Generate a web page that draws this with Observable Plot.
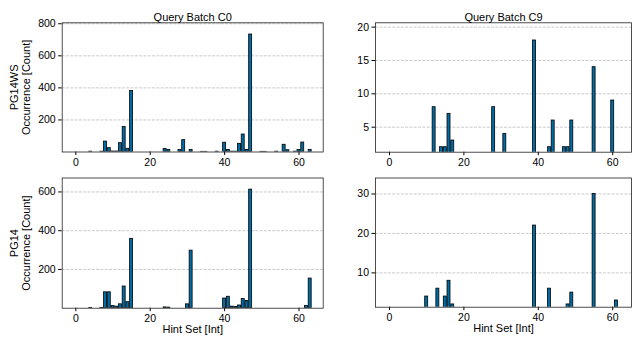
<!DOCTYPE html>
<html><head><meta charset="utf-8">
<script src="https://cdn.jsdelivr.net/npm/d3@7"></script>
<script src="https://cdn.jsdelivr.net/npm/@observablehq/plot@0.6"></script>
<style>
html,body{margin:0;padding:0;background:#fff;}
#chart{position:relative;width:634px;height:345px;overflow:hidden;background:#fff;}
#chart > svg{position:absolute;}
</style></head><body><div id="chart"></div>
<script>
// ---- data ----
const xTicks = [0, 20, 40, 60];

const wsC0Hints  = [4,7,8,9,10,11,12,13,14,15,24,25,28,29,31,34,35,38,40,41,42,43,44,45,46,47,50,51,54,56,57,59,60,61,63];
const wsC0Counts = [2,2,65,24,3,3,55,156,20,381,19,12,12,74,13,1,1,2,58,13,2,2,51,109,13,733,1,1,2,45,11,2,13,59,13];
const wsC0YTicks = [200, 400, 600, 800];

const wsC9Hints  = [12,14,15,16,17,28,31,39,43,44,47,48,49,55,60];
const wsC9Counts = [8,2,2,7,3,8,4,18,2,6,2,2,6,14,9];
const wsC9YTicks = [5, 10, 15, 20];

const pgC0Hints  = [4,7,8,9,10,11,12,13,14,15,24,25,30,31,40,41,42,43,44,45,46,47,62,63];
const pgC0Counts = [1,1,82,82,11,8,20,112,31,358,4,3,20,297,50,59,8,7,14,47,37,612,11,153];
const pgC0YTicks = [200, 400, 600];

const pgC9Hints  = [10,13,15,16,17,39,43,48,49,55,61];
const pgC9Counts = [4,6,4,8,2,22,6,2,5,30,3];
const pgC9YTicks = [10, 20, 30];

const titles = ["Query Batch C0", "Query Batch C9"];
const rowLabels = ["PG14WS\nOccurrence [Count]", "PG14\nOccurrence [Count]"];
const xLabel = "Hint Set [Int]";

// ---- style ----
const barColor = "#006BA4";
const font = '"Liberation Sans", Arial, Helvetica, sans-serif';

function panel(o) {
  const data = o.hints.map((h, i) => ({h, c: o.counts[i]}));
  const marks = [
    Plot.ruleY(o.yTicks, {stroke: "#bdbdbd", strokeWidth: 0.8, strokeDasharray: "3,1.3"}),
    Plot.rect(data, {x1: d => d.h - 0.4, x2: d => d.h + 0.4, y1: d => 0, y2: "c",
      fill: barColor, stroke: "#000", strokeWidth: 0.8, clip: true}),
    Plot.frame({stroke: "#222", strokeWidth: 0.8})
  ];
  if (o.title) marks.push(Plot.text([o.title], {text: d => d, frameAnchor: "top", textAnchor: "middle",
      dy: -9.5, fontSize: 11, fill: "#000"}));
  if (o.yLabel) marks.push(Plot.text([o.yLabel], {text: d => d, frameAnchor: "left", textAnchor: "middle",
      rotate: -90, dx: -(o.ml - 19.5), lineHeight: 1.15, fontSize: 11, fill: "#000"}));
  if (o.xLabel) marks.push(Plot.text([o.xLabel], {text: d => d, frameAnchor: "bottom", textAnchor: "middle",
      dy: 24.5, fontSize: 11, fill: "#000"}));
  const svg = Plot.plot({
    width: o.width, height: o.height,
    marginLeft: o.ml, marginRight: o.mr, marginTop: o.mt, marginBottom: o.mb,
    x: {domain: o.xDomain, ticks: xTicks, tickSize: 3.5, tickPadding: 3, label: null, tickFormat: d => String(d)},
    y: {domain: o.yDomain, ticks: o.yTicks, tickSize: 3.5, tickPadding: 3, label: null, tickFormat: d => String(d)},
    style: {fontFamily: font, fontSize: "10.5px", color: "#000", background: "transparent", overflow: "visible"},
    marks
  });
  svg.style.left = o.left + "px";
  svg.style.top = o.top + "px";
  document.getElementById("chart").appendChild(svg);
}

panel({hints: wsC0Hints, counts: wsC0Counts, yTicks: wsC0YTicks, xDomain: [-3.66, 66.5], yDomain: [0, 806],
  left: 0, top: 0, width: 330, height: 172, ml: 61.7, mr: 7.3, mt: 22.3, mb: 20.5,
  title: titles[0], yLabel: rowLabels[0]});
panel({hints: wsC9Hints, counts: wsC9Counts, yTicks: wsC9YTicks, xDomain: [-3.76, 65.05], yDomain: [1.25, 20.65],
  left: 330, top: 0, width: 304, height: 172, ml: 45, mr: 3, mt: 22.3, mb: 20.3,
  title: titles[1]});
panel({hints: pgC0Hints, counts: pgC0Counts, yTicks: pgC0YTicks, xDomain: [-3.66, 66.5], yDomain: [0, 672],
  left: 0, top: 172, width: 330, height: 173, ml: 61.7, mr: 7.3, mt: 5.5, mb: 37.3,
  yLabel: rowLabels[1], xLabel: xLabel});
panel({hints: pgC9Hints, counts: pgC9Counts, yTicks: pgC9YTicks, xDomain: [-3.76, 65.05], yDomain: [1.3, 34.05],
  left: 330, top: 172, width: 304, height: 173, ml: 45, mr: 3, mt: 5.5, mb: 38.3,
  xLabel: xLabel});
</script></body></html>
